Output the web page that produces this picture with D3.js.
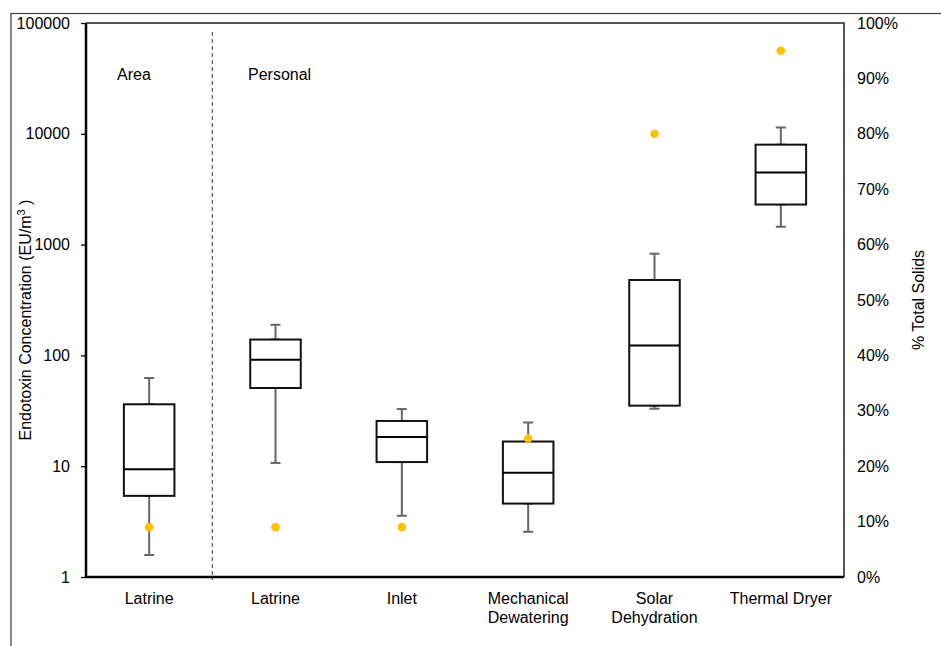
<!DOCTYPE html>
<html>
<head>
<meta charset="utf-8">
<script src="https://cdn.jsdelivr.net/npm/d3@7"></script>
<style>
  body { margin: 0; background: #fff; }
  text { font-family: "Liberation Sans", Arial, sans-serif; fill: #000; }
</style>
</head>
<body>
<script>
// categories (Area group first, then Personal group)
var categories = ["Latrine", "Latrine", "Inlet", "Mechanical\nDewatering", "Solar\nDehydration", "Thermal Dryer"];
var groupLabels = ["Area", "Personal"];

// endotoxin box plot stats (EU/m3)
var whiskerLow  = [1.58, 10.7, 3.57, 2.56, 33, 1450];
var q1          = [5.4, 50.8, 10.9, 4.6, 35.2, 2300];
var median      = [9.4, 91.5, 18.3, 8.75, 123, 4480];
var q3          = [36.2, 139, 25.6, 16.7, 479, 7980];
var whiskerHigh = [62.5, 189, 32.8, 24.8, 828, 11400];

// % total solids (right axis)
var totalSolids = [0.09, 0.09, 0.09, 0.25, 0.80, 0.95];

var leftTicks = [1, 10, 100, 1000, 10000, 100000];
var rightTicks = [0, 0.1, 0.2, 0.3, 0.4, 0.5, 0.6, 0.7, 0.8, 0.9, 1.0];

var width = 941, height = 646;
var margin = {left: 86, right: 97, top: 23, bottom: 69};
var plotW = width - margin.left - margin.right;
var plotH = height - margin.top - margin.bottom;

var svg = d3.select("body").append("svg")
  .attr("width", width)
  .attr("height", height);

// outer chart frame (cut off by the window)
svg.append("rect")
  .attr("x", 11).attr("y", 13.5)
  .attr("width", 960).attr("height", 700)
  .attr("fill", "none").attr("stroke", "#404040").attr("stroke-width", 1.2);

var g = svg.append("g").attr("transform", "translate(" + margin.left + "," + margin.top + ")");

var x = d3.scaleBand()
  .domain(d3.range(categories.length))
  .range([0, plotW])
  .paddingInner(0.6).paddingOuter(0.3);

var y = d3.scaleLog().domain([1, 100000]).range([plotH, 0]);
var y2 = d3.scaleLinear().domain([0, 1]).range([plotH, 0]);

// plot area border (top + right)
g.append("path")
  .attr("d", "M0,0H" + plotW + "V" + plotH)
  .attr("fill", "none").attr("stroke", "#222").attr("stroke-width", 1.5);

// group divider
var divX = x.step() * 1 + (x.step() * x.paddingOuter() - x.step() * x.paddingInner() / 2) ;
divX = (x(0) + x.bandwidth() + x(1)) / 2;
g.append("line")
  .attr("x1", divX).attr("x2", divX)
  .attr("y1", 9).attr("y2", plotH + 3)
  .attr("stroke", "#666").attr("stroke-width", 1.3)
  .attr("stroke-dasharray", "4,3");

g.selectAll(".grp")
  .data(groupLabels)
  .enter().append("text")
  .attr("x", function(d, i) { return i === 0 ? 31 : 162; })
  .attr("y", 57)
  .style("font-size", "16px")
  .text(function(d) { return d; });

// left axis
var yAxis = d3.axisLeft(y).tickValues(leftTicks).tickFormat(d3.format("d")).tickSize(5).tickPadding(11);
var ya = g.append("g").call(yAxis);
ya.select(".domain").remove();
ya.selectAll("line").attr("stroke", "#000").attr("stroke-width", 1.3);
ya.selectAll("text").style("font-size", "16px");

// right axis (labels only)
var y2Axis = d3.axisRight(y2).tickValues(rightTicks).tickFormat(d3.format(".0%")).tickSize(0).tickPadding(13);
var yb = g.append("g").attr("transform", "translate(" + plotW + ",0)").call(y2Axis);
yb.select(".domain").remove();
yb.selectAll("text").style("font-size", "16px");

// boxes
var bw = x.bandwidth();
var capW = 10;
var boxes = g.selectAll(".box")
  .data(d3.range(categories.length))
  .enter().append("g")
  .attr("transform", function(i) { return "translate(" + (x(i) + bw / 2) + ",0)"; });

// whiskers
boxes.append("line")
  .attr("x1", 0).attr("x2", 0)
  .attr("y1", function(i) { return y(whiskerHigh[i]); })
  .attr("y2", function(i) { return y(q3[i]); })
  .attr("stroke", "#666").attr("stroke-width", 2);
boxes.append("line")
  .attr("x1", 0).attr("x2", 0)
  .attr("y1", function(i) { return y(q1[i]); })
  .attr("y2", function(i) { return y(whiskerLow[i]); })
  .attr("stroke", "#666").attr("stroke-width", 2);
[whiskerHigh, whiskerLow, q3, q1].forEach(function(arr) {
  boxes.append("line")
    .attr("x1", -capW / 2).attr("x2", capW / 2)
    .attr("y1", function(i) { return y(arr[i]); })
    .attr("y2", function(i) { return y(arr[i]); })
    .attr("stroke", "#666").attr("stroke-width", 2);
});

boxes.append("rect")
  .attr("x", -bw / 2).attr("width", bw)
  .attr("y", function(i) { return y(q3[i]); })
  .attr("height", function(i) { return y(q1[i]) - y(q3[i]); })
  .attr("fill", "#fff").attr("stroke", "#111").attr("stroke-width", 2);

boxes.append("line")
  .attr("x1", -bw / 2).attr("x2", bw / 2)
  .attr("y1", function(i) { return y(median[i]); })
  .attr("y2", function(i) { return y(median[i]); })
  .attr("stroke", "#000").attr("stroke-width", 2);

// total solids dots
boxes.append("circle")
  .attr("cx", 0)
  .attr("cy", function(i) { return y2(totalSolids[i]); })
  .attr("r", 4.3)
  .attr("fill", "#FFC000");

// left + bottom axis lines
g.append("path")
  .attr("d", "M0,0V" + plotH + "H" + plotW)
  .attr("fill", "none").attr("stroke", "#000").attr("stroke-width", 2.5);

// category labels
var labels = g.selectAll(".cat")
  .data(d3.range(categories.length))
  .enter().append("text")
  .attr("text-anchor", "middle")
  .attr("transform", function(i) { return "translate(" + (x(i) + bw / 2) + "," + (plotH + 27) + ")"; })
  .style("font-size", "16px");
labels.selectAll("tspan")
  .data(function(i) { return categories[i].split("\n"); })
  .enter().append("tspan")
  .attr("x", 0)
  .attr("dy", function(d, j) { return j === 0 ? 0 : 19; })
  .text(function(d) { return d; });

// axis titles
var lt = svg.append("text")
  .attr("transform", "translate(31,320) rotate(-90)")
  .attr("text-anchor", "middle")
  .style("font-size", "16px");
lt.append("tspan").text("Endotoxin Concentration (EU/m");
lt.append("tspan").attr("dy", -6).style("font-size", "11px").text("3");
lt.append("tspan").attr("dy", 6).text(" )");

svg.append("text")
  .attr("transform", "translate(924,300) rotate(-90)")
  .attr("text-anchor", "middle")
  .style("font-size", "16px")
  .text("% Total Solids");
</script>
</body>
</html>
